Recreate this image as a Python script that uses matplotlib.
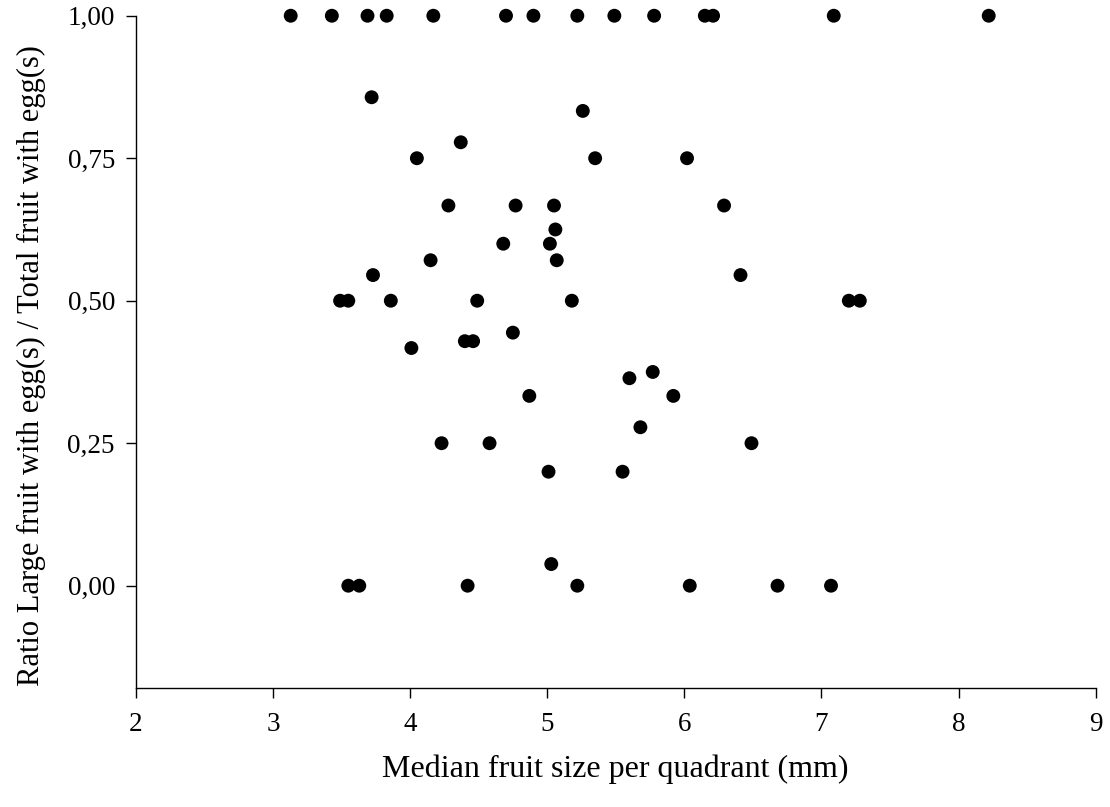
import numpy as np
from matplotlib import pyplot as plt

# median fruit size per quadrant (mm) and ratio large fruit with egg(s) / total fruit with egg(s)
size_top = [3.13, 3.43, 3.69, 3.83, 4.17, 4.70, 4.90, 5.22, 5.49, 5.78, 6.15, 6.21, 7.09, 8.22]
ratio_top = [1.0] * len(size_top)

size_mid = [3.72, 5.26, 4.37, 4.05, 5.35, 6.02, 4.28, 4.77, 5.05, 6.29,
            5.06, 4.68, 5.02, 4.15, 5.07, 3.73, 6.41,
            3.49, 3.55, 3.86, 4.49, 5.18, 7.20, 7.28,
            4.75, 4.40, 4.46, 4.01, 5.77, 5.60, 4.87, 5.92, 5.68,
            4.23, 4.58, 6.49, 5.01, 5.55, 5.03]
ratio_mid = [0.857, 0.833, 0.778, 0.75, 0.75, 0.75, 0.667, 0.667, 0.667, 0.667,
             0.625, 0.60, 0.60, 0.571, 0.571, 0.545, 0.545,
             0.50, 0.50, 0.50, 0.50, 0.50, 0.50, 0.50,
             0.444, 0.429, 0.429, 0.417, 0.375, 0.364, 0.333, 0.333, 0.278,
             0.25, 0.25, 0.25, 0.20, 0.20, 0.038]

size_zero = [3.55, 3.63, 4.42, 5.22, 6.04, 6.68, 7.07]
ratio_zero = [0.0] * len(size_zero)

x_ticks = [2, 3, 4, 5, 6, 7, 8, 9]
y_ticks = [0.0, 0.25, 0.50, 0.75, 1.0]
y_ticklabels = ['0,00', '0,25', '0,50', '0,75', '1,00']

plt.rcParams['font.family'] = ['Liberation Serif', 'DejaVu Serif']

x = np.array(size_top + size_mid + size_zero)
y = np.array(ratio_top + ratio_mid + ratio_zero)

fig = plt.figure(figsize=(11.1, 8.07), dpi=100)
ax = fig.add_axes([0.1223, 0.1471, 0.8648, 0.8334])

ax.scatter(x, y, s=100, c='black', edgecolors='none', clip_on=False, zorder=3)

ax.set_xlim(2, 9)
ax.set_ylim(-0.18, 1.0)
ax.set_xticks(x_ticks)
ax.set_yticks(y_ticks)
ax.set_yticklabels(y_ticklabels)

for side in ['top', 'right']:
    ax.spines[side].set_visible(False)
for side in ['left', 'bottom']:
    ax.spines[side].set_linewidth(1.0)

ax.tick_params(axis='both', direction='out', length=7, width=1.0, labelsize=19.5, colors='black')
ax.tick_params(axis='x', pad=10)
ax.tick_params(axis='y', pad=8)

ax.set_xlabel('Median fruit size per quadrant (mm)', fontsize=23, labelpad=13)
ax.set_ylabel('Ratio Large fruit with egg(s) / Total fruit with egg(s)', fontsize=22)
ax.yaxis.set_label_coords(-0.094, 0.48)

fig.savefig('out.png', dpi=100)
